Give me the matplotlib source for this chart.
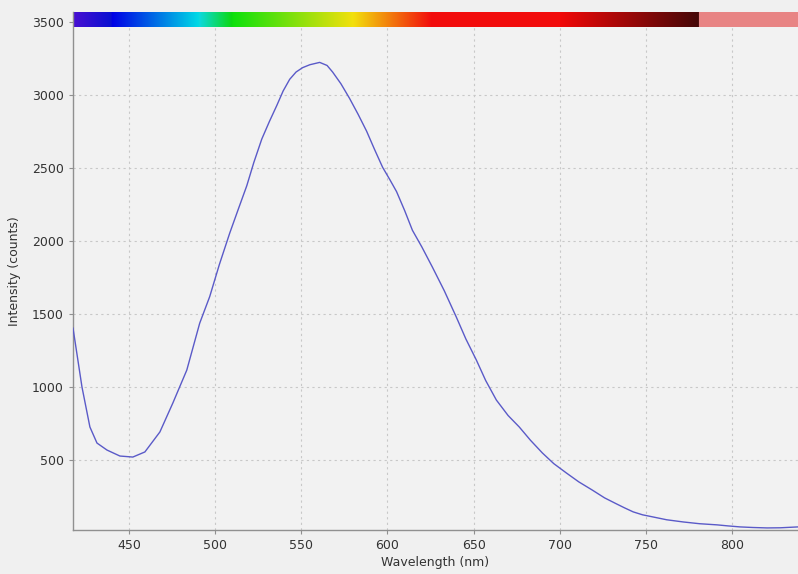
import numpy as np
import matplotlib
matplotlib.use("Agg")
import matplotlib.pyplot as plt

# values
wavelength = [417.6, 422.8, 427.4, 431.5, 437.3, 444.8, 452.3, 459.3, 468.0, 475.5,
              483.6, 491.1, 496.9, 502.5, 508.5, 513.5, 518.4, 522.5, 527.1, 531.5,
              535.8, 539.5, 543.3, 547.0, 550.8, 555.0, 560.7, 565.0, 568.2, 573.0,
              578.0, 583.0, 587.9, 592.5, 597.2, 601.5, 605.3, 610.0, 614.5, 620.0,
              626.1, 633.0, 640.0, 645.5, 651.6, 657.0, 663.2, 670.0, 676.5, 683.0,
              689.9, 696.5, 703.8, 711.0, 718.8, 726.0, 732.7, 737.5, 742.6, 748.0,
              754.2, 762.0, 771.6, 781.0, 791.3, 797.5, 804.6, 812.0, 820.3, 828.0,
              838.2]
intensity = [1404, 1000, 726, 616, 568, 527, 520, 555, 692, 890,
             1116, 1438, 1620, 1840, 2055, 2220, 2380, 2540, 2700, 2820,
             2930, 3030, 3110, 3160, 3190, 3210, 3226, 3205, 3160, 3080,
             2980, 2870, 2755, 2630, 2507, 2420, 2340, 2210, 2075, 1960,
             1822, 1660, 1479, 1330, 1185, 1045, 911, 805, 726, 635,
             548, 475, 411, 350, 294, 240, 200, 172, 144, 124,
             109, 90, 75, 63, 55, 48, 41, 37, 34, 35,
             41]

x_ticks = [450, 500, 550, 600, 650, 700, 750, 800]
y_ticks = [500, 1000, 1500, 2000, 2500, 3000, 3500]


def wl_color(w):
    # rough visible-spectrum colour for the top strip
    if w < 440:
        r, g, b = 0.28 - 0.25 * (w - 418) / 22, 0.06, 0.82
    elif w < 490:
        r, g, b = 0.0, (w - 440) / 50 * 0.85, 0.9
    elif w < 510:
        r, g, b = 0.05, 0.85, 0.9 - 0.85 * (w - 490) / 20
    elif w < 580:
        r, g, b = 0.05 + 0.9 * (w - 510) / 70, 0.88, 0.05
    elif w < 625:
        r, g, b = 0.95, 0.88 - 0.82 * (w - 580) / 45, 0.05
    elif w < 700:
        r, g, b = 0.95, 0.05, 0.05
    elif w < 781:
        f = 1 - 0.72 * (w - 700) / 81
        r, g, b = 0.95 * f, 0.03, 0.03
    else:
        r, g, b = 0.91, 0.52, 0.52
    return (r, g, b)


fig = plt.figure(figsize=(7.98, 5.74), dpi=100, facecolor="#f0f0f0")
ax = fig.add_axes([0.0915, 0.0767, 0.9085, 0.902])
ax.set_facecolor("#f2f2f2")

ax.set_xlim(417.6, 838.2)
ax.set_ylim(20, 3570)

# spectrum colour strip at the top
ws = np.linspace(417.6, 838.2, 600)
strip = np.array([[wl_color(w) for w in ws]])
ax.imshow(strip, extent=[417.6, 838.2, 3466, 3562], aspect="auto", zorder=1)

ax.plot(wavelength, intensity, color="#5a5ac8", lw=1.0, zorder=3)

ax.set_xticks(x_ticks)
ax.set_yticks(y_ticks)
ax.grid(True, color="#c8c8c8", linestyle=(0, (2, 3)), linewidth=0.8, zorder=0)
ax.set_axisbelow(True)

for s in ["top", "right"]:
    ax.spines[s].set_visible(False)
for s in ["left", "bottom"]:
    ax.spines[s].set_color("#909090")
    ax.spines[s].set_linewidth(1.0)

ax.tick_params(axis="both", colors="#909090", labelcolor="#333333",
               labelsize=9, length=3)

ax.set_xlabel("Wavelength (nm)", fontsize=9, color="#333333", labelpad=3)
ax.set_ylabel("Intensity (counts)", fontsize=9, color="#333333", labelpad=8)

fig.savefig("out.png", dpi=100, facecolor=fig.get_facecolor())
